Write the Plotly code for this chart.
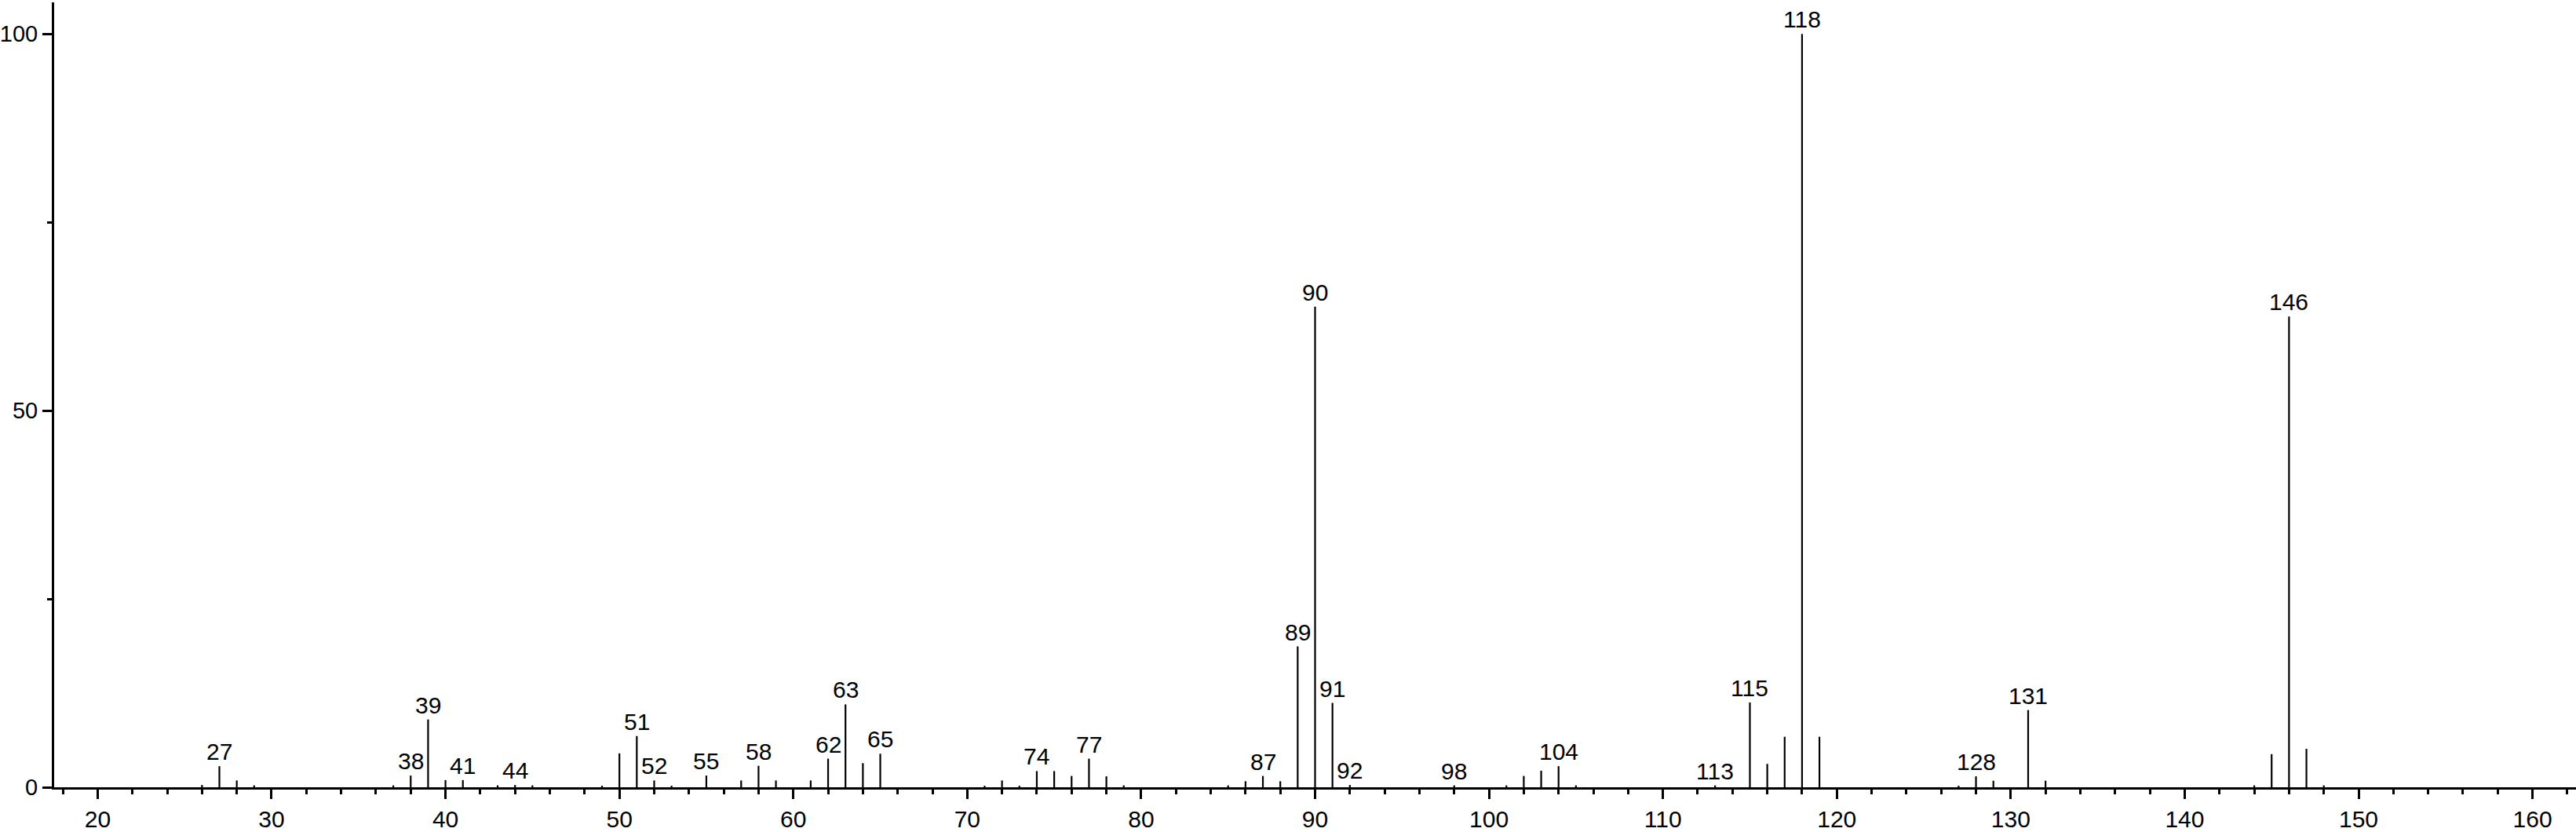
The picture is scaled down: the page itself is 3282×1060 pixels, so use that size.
import plotly.graph_objects as go

# m/z values and relative intensities (%)
mz = [26, 27, 28, 29, 37, 38, 39, 40, 41, 43, 44, 45, 49, 50, 51, 52, 53, 55, 57, 58,
      59, 61, 62, 63, 64, 65, 71, 72, 73, 74, 75, 76, 77, 78, 79, 85, 86, 87, 88, 89,
      90, 91, 92, 98, 101, 102, 103, 104, 105, 113, 115, 116, 117, 118, 119, 127, 128,
      129, 131, 132, 144, 145, 146, 147, 148]
intensity = [0.3, 2.8, 0.9, 0.25, 0.25, 1.55, 9.0, 0.95, 0.95, 0.25, 0.3, 0.25, 0.2, 4.5,
             6.8, 0.9, 0.2, 1.55, 0.9, 2.85, 0.9, 0.9, 3.8, 11.0, 3.2, 4.45, 0.2, 0.9, 0.2,
             2.15, 2.15, 1.5, 3.8, 1.45, 0.25, 0.25, 0.8, 1.5, 0.8, 18.7, 63.8, 11.2, 0.3,
             0.25, 0.25, 1.5, 2.2, 2.8, 0.25, 0.25, 11.25, 3.1, 6.7, 100.0, 6.7, 0.2, 1.45,
             0.87, 10.25, 0.87, 0.25, 4.4, 62.5, 5.1, 0.25]

labeled_mz = [27, 38, 39, 41, 44, 51, 52, 55, 58, 62, 63, 65, 74, 77, 87, 89, 90, 91, 92,
              98, 104, 113, 115, 118, 128, 131, 146]

x_ticks = [20, 30, 40, 50, 60, 70, 80, 90, 100, 110, 120, 130, 140, 150, 160]
y_ticks = [0, 50, 100]

FONT = "Liberation Sans, Arial, Helvetica, sans-serif"

xs, ys = [], []
for m, v in zip(mz, intensity):
    xs += [m, m, None]
    ys += [0, v, None]

fig = go.Figure()
fig.add_trace(go.Scatter(x=xs, y=ys, mode="lines",
                         line=dict(color="black", width=2.2),
                         hoverinfo="skip", showlegend=False))

lookup = dict(zip(mz, intensity))
for m in labeled_mz:
    fig.add_annotation(x=m, y=lookup[m], text=str(m), showarrow=False,
                       xanchor="center", yanchor="bottom", yshift=0,
                       font=dict(family=FONT, size=30, color="black"))

fig.update_xaxes(range=[17.5, 162.5], showgrid=False, zeroline=False, automargin=False,
                 showline=True, linecolor="black", linewidth=3,
                 tickmode="array", tickvals=x_ticks, ticktext=[str(t) for t in x_ticks],
                 ticks="outside", ticklen=12, tickwidth=2.5, tickcolor="black",
                 minor=dict(dtick=2, tick0=0, ticks="outside", ticklen=6,
                            tickwidth=2.5, tickcolor="black"),
                 tickfont=dict(family=FONT, size=30, color="black"))
fig.update_yaxes(range=[0, 104.2], showgrid=False, zeroline=False, automargin=False,
                 showline=True, linecolor="black", linewidth=3,
                 tickmode="array", tickvals=y_ticks, ticktext=[str(t) for t in y_ticks],
                 ticks="outside", ticklen=12, tickwidth=2.5, tickcolor="black",
                 minor=dict(dtick=25, tick0=0, ticks="outside", ticklen=6,
                            tickwidth=2.5, tickcolor="black"),
                 tickfont=dict(family=FONT, size=29, color="black"))

fig.update_layout(width=3282, height=1060,
                  margin=dict(l=69, r=0, t=3, b=57, pad=0, autoexpand=False),
                  paper_bgcolor="white", plot_bgcolor="white",
                  showlegend=False)

fig.write_html("out.html", config={"displayModeBar": False},
               post_script="document.body.style.margin='0';")
